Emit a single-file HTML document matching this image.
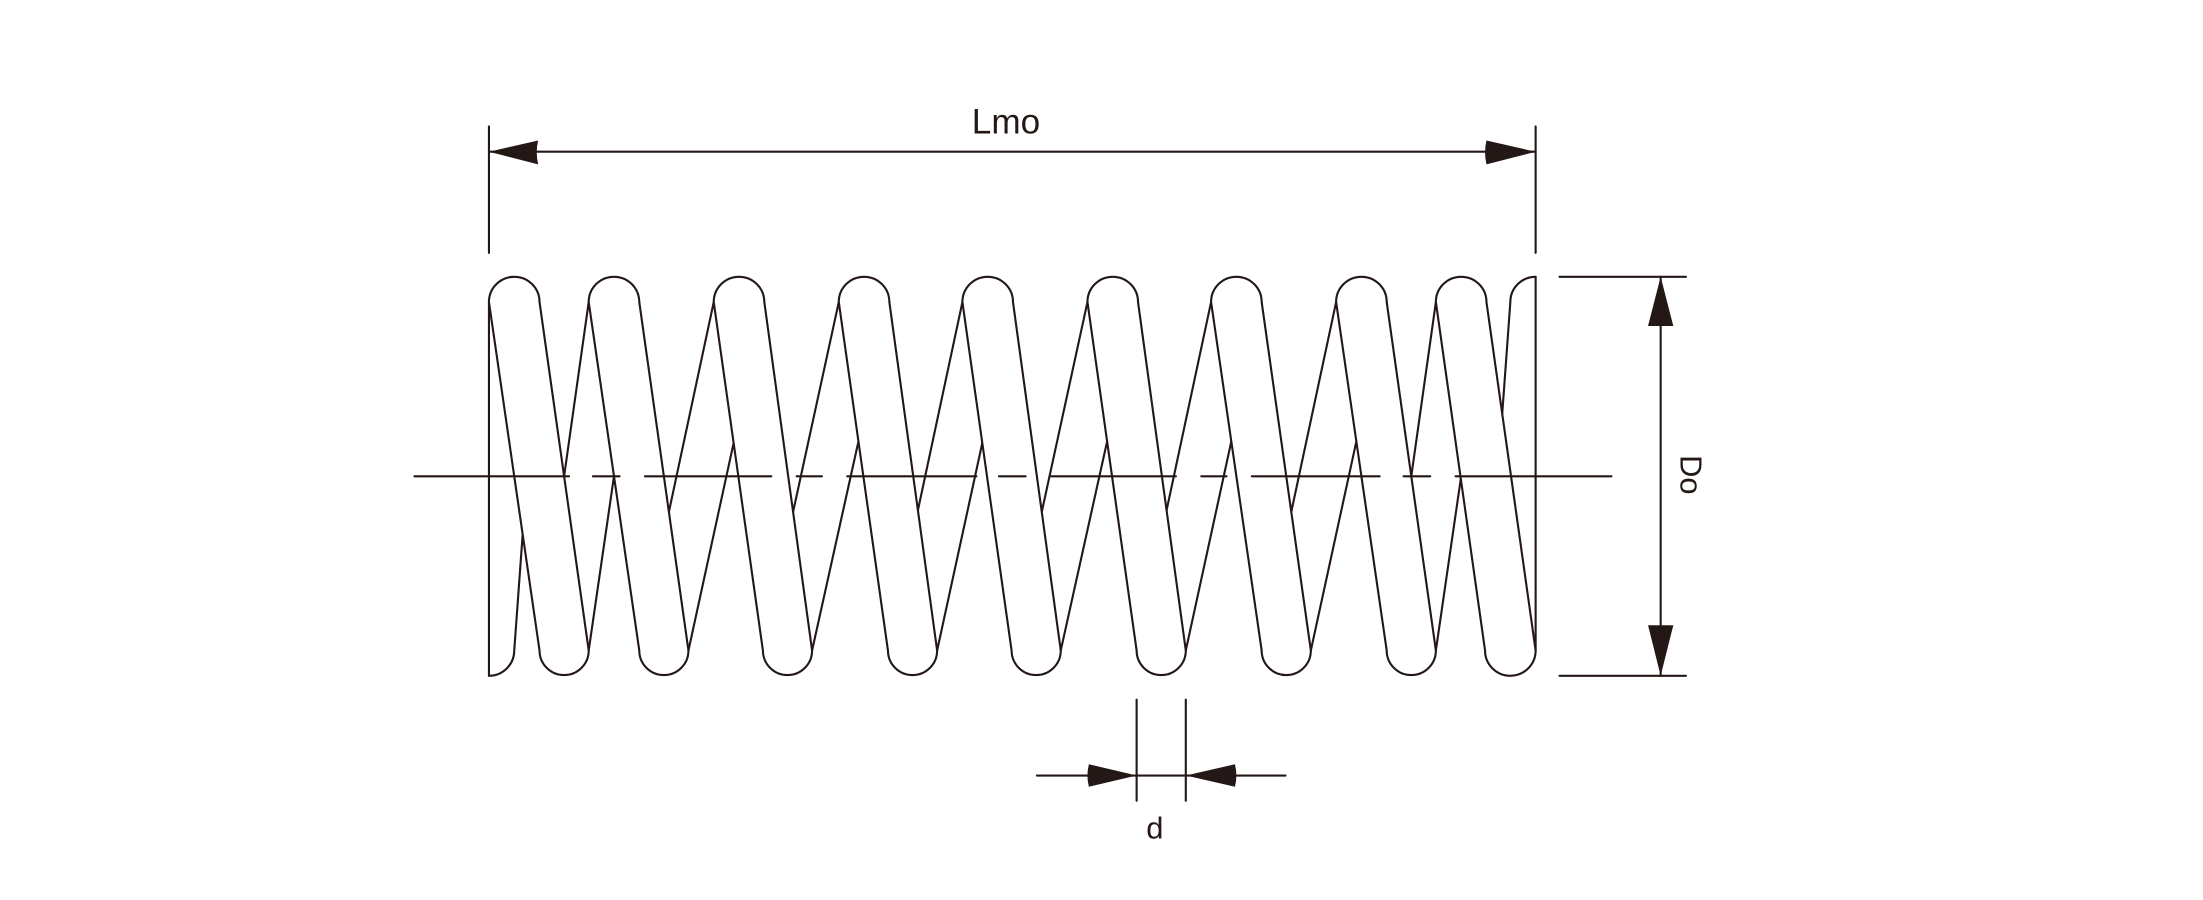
<!DOCTYPE html>
<html><head><meta charset="utf-8"><style>
html,body{margin:0;padding:0;background:#fff;}
svg{display:block}
text{font-family:"Liberation Sans","DejaVu Sans",sans-serif;fill:#231815}
</style></head><body>
<svg width="2203" height="900" viewBox="0 0 1568 640.6" xmlns="http://www.w3.org/2000/svg">
<g stroke="#231815" stroke-width="1.5" fill="none" stroke-linecap="round">
<!-- back strands -->
<line x1="384" y1="463" x2="419" y2="215"/><line x1="419" y1="463" x2="455" y2="215"/>
<line x1="455" y1="463" x2="508" y2="215"/><line x1="490" y1="463" x2="544" y2="215"/>
<line x1="543" y1="463" x2="597" y2="215"/><line x1="578" y1="463" x2="633" y2="215"/>
<line x1="632" y1="463" x2="685" y2="215"/><line x1="667" y1="463" x2="721" y2="215"/>
<line x1="720" y1="463" x2="774" y2="215"/><line x1="755" y1="463" x2="810" y2="215"/>
<line x1="809" y1="463" x2="862" y2="215"/><line x1="844" y1="463" x2="898" y2="215"/>
<line x1="898" y1="463" x2="951" y2="215"/><line x1="933" y1="463" x2="987" y2="215"/>
<line x1="987" y1="463" x2="1022" y2="215"/><line x1="1022" y1="463" x2="1058" y2="215"/>
<!-- ends -->
<line x1="348" y1="215" x2="348" y2="481"/>
<path d="M348,481 A18,18 0 0 0 366,463 L384,215"/>
<line x1="1093" y1="197" x2="1093" y2="463"/>
<path d="M1057,463 L1075,215 A18,18 0 0 1 1093,197"/>
<!-- front wires -->
<g fill="#fff">
<path d="M348,215 A18,18 0 0 1 384,215 L419,463 A17.5,17.5 0 0 1 384,463 Z"/>
<path d="M419,215 A18,18 0 0 1 455,215 L490,463 A17.5,17.5 0 0 1 455,463 Z"/>
<path d="M508,215 A18,18 0 0 1 544,215 L578,463 A17.5,17.5 0 0 1 543,463 Z"/>
<path d="M597,215 A18,18 0 0 1 633,215 L667,463 A17.5,17.5 0 0 1 632,463 Z"/>
<path d="M685,215 A18,18 0 0 1 721,215 L755,463 A17.5,17.5 0 0 1 720,463 Z"/>
<path d="M774,215 A18,18 0 0 1 810,215 L844,463 A17.5,17.5 0 0 1 809,463 Z"/>
<path d="M862,215 A18,18 0 0 1 898,215 L933,463 A17.5,17.5 0 0 1 898,463 Z"/>
<path d="M951,215 A18,18 0 0 1 987,215 L1022,463 A17.5,17.5 0 0 1 987,463 Z"/>
<path d="M1022,215 A18,18 0 0 1 1058,215 L1093,463 A17.5,17.5 0 0 1 1057,463 Z"/>
</g>
<!-- centerline -->
<path d="M295,339H405M422,339H441M459,339H549M567,339H585M603,339H695M711,339H730M748,339H837M855,339H873M891,339H982M999,339H1018M1036,339H1147"/>
<!-- Lmo dimension -->
<line x1="348" y1="90" x2="348" y2="180"/>
<line x1="1093" y1="90" x2="1093" y2="180"/>
<line x1="348" y1="108" x2="1093" y2="108"/>
<!-- Do dimension -->
<line x1="1110" y1="197" x2="1200" y2="197"/>
<line x1="1110" y1="481" x2="1200" y2="481"/>
<line x1="1182" y1="197" x2="1182" y2="481"/>
<!-- d dimension -->
<line x1="809" y1="498" x2="809" y2="570"/>
<line x1="844" y1="498" x2="844" y2="570"/>
<line x1="738" y1="552" x2="915" y2="552"/>
</g>
<g fill="#231815">
<path d="M348,108 L383,100 Q381,108 383,117 Z"/>
<path d="M1093,108 L1058,100 Q1056,108 1058,117 Z"/>
<path d="M1182,197 L1173,232 L1191,232 Z"/>
<path d="M1182,481 L1173,445 L1191,445 Z"/>
<path d="M809,552 L775,544 Q773,552 775,560 Z"/>
<path d="M844,552 L879,544 Q881,552 879,560 Z"/>
</g>
<text x="716" y="95" font-size="25" text-anchor="middle">Lmo</text>
<text x="0" y="0" font-size="22" text-anchor="middle" transform="translate(1196,338) rotate(90)">Do</text>
<text x="822" y="597" font-size="22" text-anchor="middle">d</text>
</svg>
</body></html>
